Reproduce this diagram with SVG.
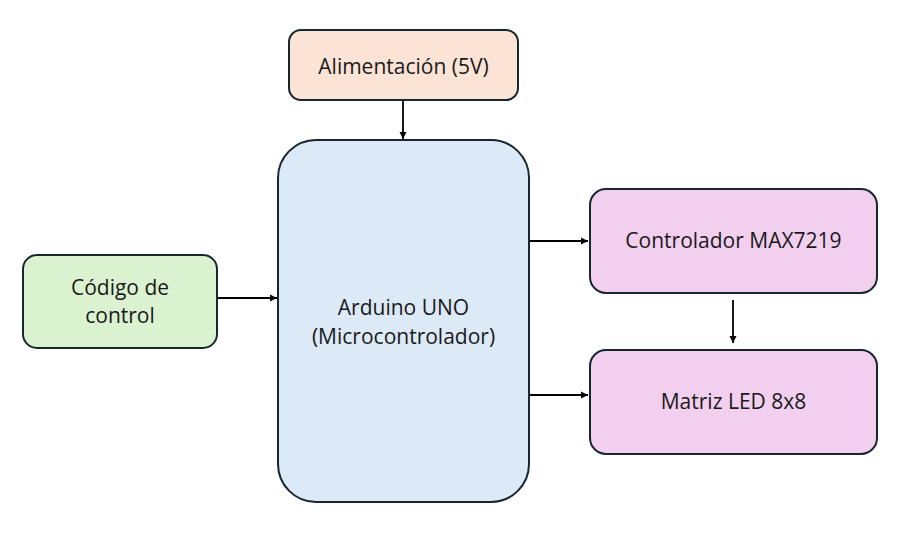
<svg xmlns="http://www.w3.org/2000/svg" width="921" height="543" viewBox="0 0 921 543">
<style>
.box{stroke:#17262f;stroke-width:2}
.t{font-family:"Open Sans","Liberation Sans",sans-serif;font-size:21px;fill:#1a1a1a;text-anchor:middle}
.c{stroke:#000;stroke-width:1.8;fill:none;marker-end:url(#ah)}
</style>
<defs>
<marker id="ah" viewBox="0 0 10 10" refX="10" refY="5" markerWidth="4" markerHeight="4" orient="auto" markerUnits="strokeWidth">
<path d="M0,0 L10,5 L0,10 z" fill="#000"/>
</marker>
</defs>
<rect width="921" height="543" fill="#fff"/>
<g id="connectors">
<line class="c" x1="403" y1="101" x2="403" y2="139"/>
<line class="c" x1="217" y1="298" x2="277" y2="298"/>
<line class="c" x1="529" y1="241" x2="588" y2="241"/>
<line class="c" x1="733" y1="300" x2="733" y2="343"/>
<line class="c" x1="529" y1="395" x2="588" y2="395"/>
</g>
<g id="alimentacion">
<rect class="box" x="289" y="30" width="229" height="70" rx="12" fill="#fbe3d6"/>
<text class="t" x="403.5" y="74">Alimentación (5V)</text>
</g>
<g id="arduino">
<rect class="box" x="278" y="140" width="251" height="362" rx="38" fill="#dce9f6"/>
<text class="t" x="403.5" y="315">Arduino UNO</text>
<text class="t" x="403.5" y="344">(Microcontrolador)</text>
</g>
<g id="codigo">
<rect class="box" x="23" y="255" width="194" height="93" rx="14" fill="#daf2d0"/>
<text class="t" x="120" y="295">Código de</text>
<text class="t" x="120" y="323">control</text>
</g>
<g id="max7219">
<rect class="box" x="590" y="189" width="287" height="104" rx="16" fill="#f2cfee"/>
<text class="t" x="733.5" y="248">Controlador MAX7219</text>
</g>
<g id="matriz">
<rect class="box" x="590" y="350" width="287" height="104" rx="16" fill="#f2cfee"/>
<text class="t" x="733.5" y="409">Matriz LED 8x8</text>
</g>
</svg>
